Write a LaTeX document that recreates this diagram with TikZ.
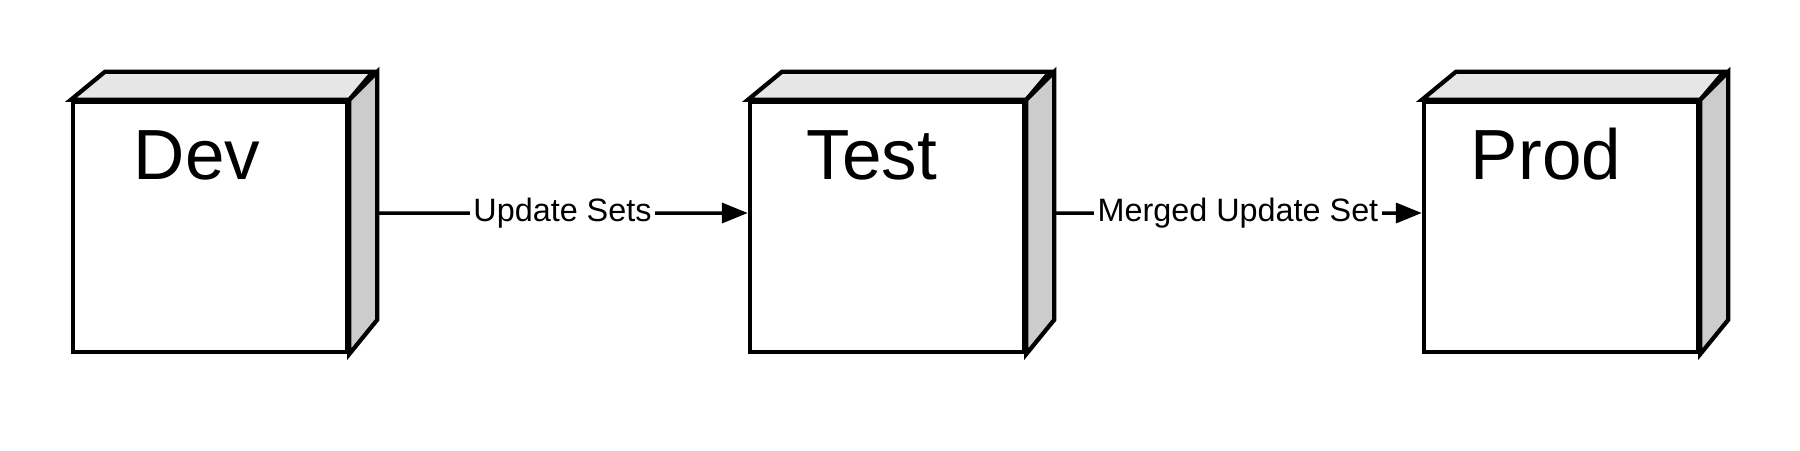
\documentclass[tikz,border=0pt]{standalone}
\usepackage{fontspec}
\setmainfont{Liberation Sans}
\usetikzlibrary{arrows.meta}

\definecolor{topface}{HTML}{E6E6E6}
\definecolor{sideface}{HTML}{CCCCCC}

\tikzset{
  envbox/.style={rectangle, draw, line width=1.2pt, fill=white, minimum width=2.74cm, minimum height=2.5cm, inner sep=0pt},
  envface/.style={draw, line width=1.2pt},
  envname/.style={anchor=base, inner sep=0pt, font=\fontsize{20.2pt}{24pt}\selectfont},
  flow/.style={line width=1pt, -{Triangle[length=0.26cm,width=0.2cm]}},
  flowlabel/.style={fill=white, inner sep=1pt, font=\fontsize{9.2pt}{11pt}\selectfont}
}

\begin{document}
\begin{tikzpicture}[x=0.01cm, y=-0.01cm]
\useasboundingbox (0,0) rectangle (1800,450);

% environments
\node (dev) at (210,227) [envbox] {};
	\path[envface, fill=topface] (dev.north west) -- ++(34,-28) -- ++(268,0) -- (dev.north east) -- cycle;
	\path[envface, fill=sideface] (dev.north east) -- ++(28,-28) -- ++(0,248) -- (dev.south east) -- cycle;
	\node (devname) at (197,179) [envname] {Dev};

\node (test) at (887,227) [envbox] {};
	\path[envface, fill=topface] (test.north west) -- ++(34,-28) -- ++(268,0) -- (test.north east) -- cycle;
	\path[envface, fill=sideface] (test.north east) -- ++(28,-28) -- ++(0,248) -- (test.south east) -- cycle;
	\node (testname) at (872,179) [envname] {Test};

\node (prod) at (1561,227) [envbox] {};
	\path[envface, fill=topface] (prod.north west) -- ++(34,-28) -- ++(268,0) -- (prod.north east) -- cycle;
	\path[envface, fill=sideface] (prod.north east) -- ++(28,-28) -- ++(0,248) -- (prod.south east) -- cycle;
	\node (prodname) at (1546,179) [envname] {Prod};

% promotions
\draw[flow] ([shift={(28,-14)}]dev.east) -- node (upd) [flowlabel] {Update Sets} ([yshift=0.14cm]test.west);
\draw[flow] ([shift={(28,-14)}]test.east) -- node (merged) [flowlabel] {Merged Update Set} ([yshift=0.14cm]prod.west);
\end{tikzpicture}
\end{document}
